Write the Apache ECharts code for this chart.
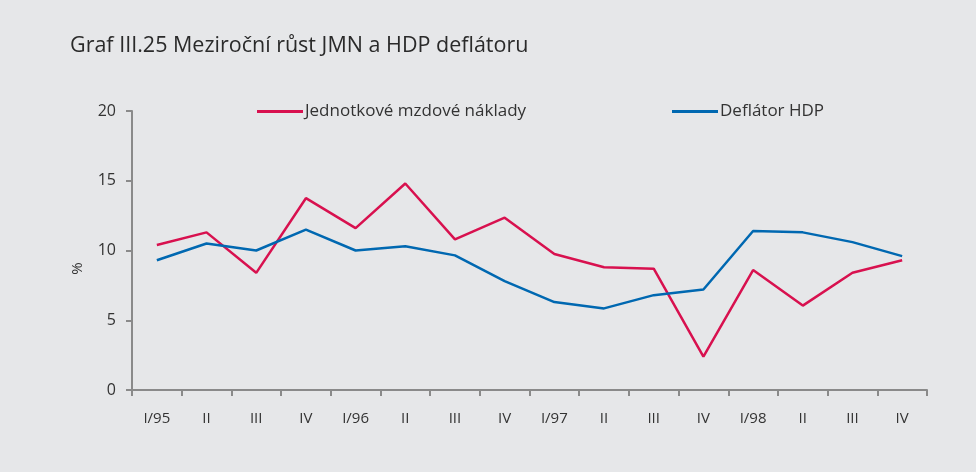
<!DOCTYPE html>
<html>
<head>
<meta charset="utf-8">
<script src="https://cdn.jsdelivr.net/npm/echarts@6/dist/echarts.min.js"></script>
<style>
  html, body { margin: 0; padding: 0; background: #e6e7e9; }
  #chart { width: 976px; height: 472px; }
</style>
</head>
<body>
<div id="chart"></div>
<script>
// kvartaly 1995-1998
var categories = ["I/95", "II", "III", "IV", "I/96", "II", "III", "IV",
                  "I/97", "II", "III", "IV", "I/98", "II", "III", "IV"];
// Jednotkove mzdove naklady (%)
var jmn = [10.4, 11.3, 8.4, 13.75, 11.6, 14.8, 10.8, 12.35,
           9.75, 8.8, 8.7, 2.4, 8.6, 6.05, 8.4, 9.3];
// Deflator HDP (%)
var deflator = [9.3, 10.5, 10.0, 11.5, 10.0, 10.3, 9.65, 7.8,
                6.3, 5.85, 6.8, 7.2, 11.4, 11.3, 10.6, 9.6];
var yTicks = [0, 5, 10, 15, 20];

var font = "'Open Sans', Lato, sans-serif";
var red = "#d8114f", blue = "#0068b1", txt = "#333333", axisGray = "#8a8a8a";

var chart = echarts.init(document.getElementById("chart"));
var option = {
    backgroundColor: "#e6e7e9",
    animation: false,
    textStyle: { fontFamily: font },
    title: {
        text: "Graf III.25 Meziroční růst JMN a HDP deflátoru",
        left: 70, top: 35, padding: 0,
        textStyle: { fontFamily: font, fontSize: 21.5, fontWeight: "normal", color: "#2a2a2a" }
    },
    legend: [{
        data: ["Jednotkové mzdové náklady"],
        left: 257, top: 103, padding: 0,
        icon: "rect", itemWidth: 46, itemHeight: 3,
        textStyle: { fontFamily: font, fontSize: 17, color: txt, padding: [0, 0, 0, -3] }
    }, {
        data: ["Deflátor HDP"],
        left: 672, top: 103, padding: 0,
        icon: "rect", itemWidth: 46, itemHeight: 3,
        textStyle: { fontFamily: font, fontSize: 17, color: txt, padding: [0, 0, 0, -3] }
    }],
    grid: { left: 132, right: 49, top: 111, bottom: 82, containLabel: false },
    xAxis: {
        type: "category",
        data: categories,
        boundaryGap: true,
        axisLine: { lineStyle: { color: axisGray, width: 2 } },
        axisTick: { show: true, length: 6, lineStyle: { color: axisGray, width: 2 } },
        axisLabel: { color: txt, fontSize: 15, margin: 21, fontFamily: font }
    },
    yAxis: {
        type: "value",
        min: yTicks[0], max: yTicks[yTicks.length - 1], interval: 5,
        name: "%",
        nameLocation: "middle",
        nameGap: 47,
        nameRotate: 90,
        nameTextStyle: { color: txt, fontSize: 15, fontFamily: font, padding: [0, 36, 0, 0] },
        axisLine: { show: true, lineStyle: { color: axisGray, width: 2 } },
        axisTick: { show: true, length: 6, lineStyle: { color: axisGray, width: 2 } },
        splitLine: { show: false },
        axisLabel: { color: txt, fontSize: 16, margin: 16, fontFamily: font }
    },
    series: [{
        name: "Jednotkové mzdové náklady",
        type: "line",
        data: jmn,
        symbol: "none",
        lineStyle: { color: red, width: 2.5 },
        itemStyle: { color: red }
    }, {
        name: "Deflátor HDP",
        type: "line",
        data: deflator,
        symbol: "none",
        lineStyle: { color: blue, width: 2.5 },
        itemStyle: { color: blue }
    }]
};
chart.setOption(option);
</script>
</body>
</html>
